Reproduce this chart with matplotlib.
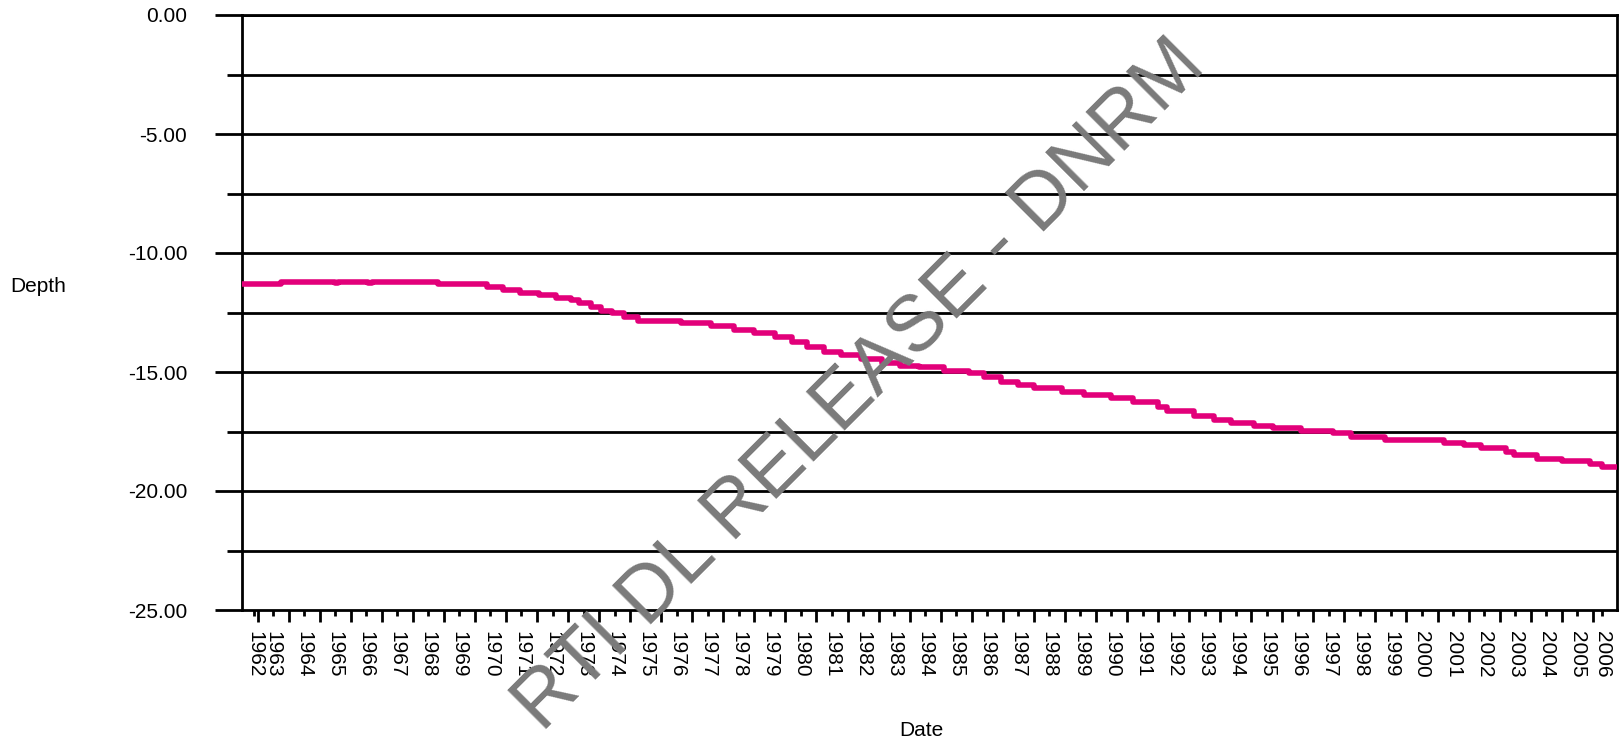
import matplotlib.pyplot as plt
import numpy as np

# даты замеров (десятичный год) и глубина уровня
dates = [1962.0, 1963.25, 1965.0, 1965.1, 1966.05, 1966.2, 1968.3, 1969.9,
         1970.4, 1970.95, 1971.55, 1972.1, 1972.6, 1972.85, 1973.25, 1973.55,
         1973.9, 1974.3, 1974.75, 1976.15, 1977.1, 1977.85, 1978.5, 1979.15,
         1979.7, 1980.2, 1980.75, 1981.3, 1981.95, 1982.6, 1983.2, 1983.8,
         1984.6, 1985.4, 1985.9, 1986.45, 1987.0, 1987.5, 1988.4, 1989.1,
         1990.0, 1990.7, 1991.5, 1991.8, 1992.65, 1993.3, 1993.85, 1994.6,
         1995.2, 1996.1, 1997.15, 1997.7, 1998.8, 2000.7, 2001.35, 2001.9,
         2002.7, 2002.95, 2003.7, 2004.5, 2005.4, 2005.8, 2006.28]
depth = [-11.30, -11.20, -11.27, -11.20, -11.28, -11.20, -11.30, -11.43,
         -11.55, -11.66, -11.76, -11.90, -11.97, -12.10, -12.25, -12.42,
         -12.53, -12.67, -12.84, -12.94, -13.07, -13.24, -13.37, -13.51,
         -13.72, -13.94, -14.15, -14.29, -14.47, -14.64, -14.75, -14.81,
         -14.94, -15.06, -15.23, -15.40, -15.55, -15.69, -15.83, -15.97,
         -16.10, -16.25, -16.46, -16.64, -16.85, -17.00, -17.16, -17.27,
         -17.37, -17.48, -17.58, -17.72, -17.86, -17.97, -18.07, -18.21,
         -18.35, -18.49, -18.66, -18.74, -18.87, -19.00, -19.00]

years = list(range(1962, 2007))
year_labels = [str(y) for y in years]
y_ticks = [0, -5, -10, -15, -20, -25]
y_labels = ["0.00", "-5.00", "-10.00", "-15.00", "-20.00", "-25.00"]

plt.rcParams['font.family'] = ['Liberation Sans', 'DejaVu Sans']

fig = plt.figure(figsize=(16.23, 7.43), dpi=100)
ax = fig.add_axes([242/1623, 1 - 610/743, 1375/1623, 595/743])

ax.step(dates, depth, where='post', color='#e2007a', linewidth=4, zorder=3)

ax.set_xlim(1962.0, 2006.28)
ax.set_ylim(-25, 0)

# сетка по y через 2.5
for v in np.arange(-22.5, 0.1, 2.5):
    ax.axhline(v, color='black', linewidth=2, zorder=2)

ax.set_yticks(y_ticks)
ax.set_yticklabels(y_labels)
ax.set_yticks(np.arange(-22.5, 0, 5), minor=True)
ax.tick_params(axis='y', which='major', length=19.5, width=2, pad=20, labelsize=15)
ax.tick_params(axis='y', which='minor', length=11, width=2)

# длинные метки в середине года, подписи на начале года
ax.set_xticks([y + 0.5 for y in years[:-1]])
ax.set_xticklabels([])
pos = [float(y) for y in years]
pos[0] = pos[0] + 0.4
pos[-1] = pos[-1] - 0.2
ax.set_xticks(pos, minor=True)
ax.set_xticklabels(year_labels, minor=True, rotation=270)
ax.tick_params(axis='x', which='major', length=8.6, width=2)
ax.tick_params(axis='x', which='minor', length=4.3, width=2, pad=11, labelsize=15)

for s in ax.spines.values():
    s.set_linewidth(2)

fig.text(10/1623, 1 - 287/743, "Depth", fontsize=15, va='center', ha='left')
fig.text(921/1623, 1 - 730/743, "Date", fontsize=15, va='center', ha='center')

fig.text(0.530, 0.480, "RTI DL RELEASE - DNRM", fontsize=57, color='#7a7a7a',
         rotation=45, ha='center', va='center', rotation_mode='anchor', zorder=10)

plt.savefig("out.png", dpi=100)
